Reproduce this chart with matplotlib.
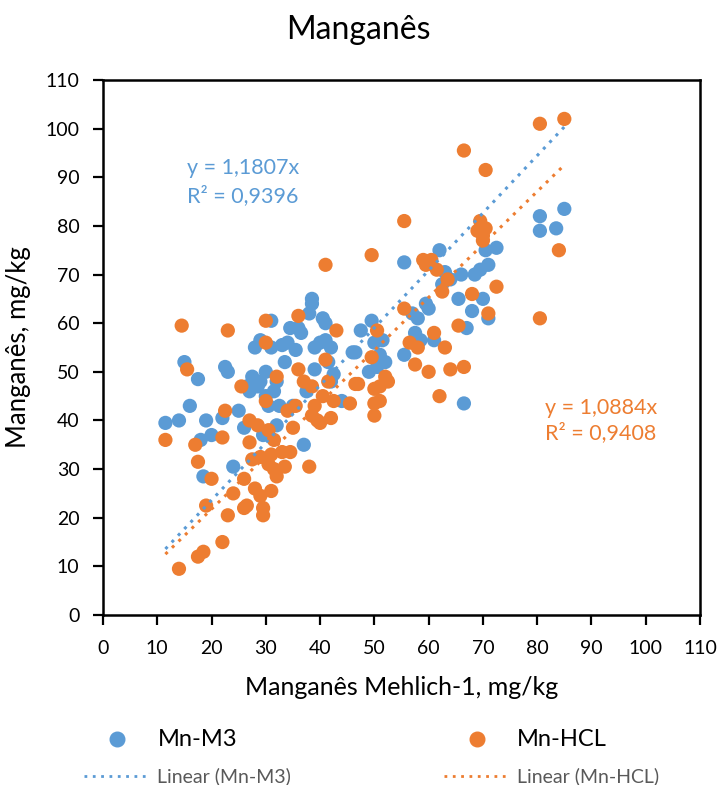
import matplotlib
matplotlib.use("Agg")
import matplotlib.pyplot as plt
from matplotlib.lines import Line2D
import numpy as np

plt.rcParams['font.family'] = ['Lato', 'DejaVu Sans']

# Mn-M3 (blue) data
m3_x = [11.5, 14, 15, 16, 17.5, 18, 18.5, 19, 20, 22, 22.5, 23, 24, 25, 26, 26.5, 27, 27.5, 28, 28.5,
        29, 29, 29.5, 30, 30, 30.5, 31, 31, 31.5, 32, 32, 32.5, 33, 33.5, 34, 34.5, 35, 35.5, 36, 36.5,
        37, 37.5, 38, 38.5, 38.5, 39, 39, 40, 40.5, 41, 41, 41.5, 42, 42, 42.5, 44, 46, 46.5, 47.5, 49,
        49.5, 50, 50.5, 51, 51.5, 52, 55.5, 55.5, 57, 57.5, 58, 58.5, 59.5, 60, 61, 62, 62.5, 63, 64, 65.5,
        66, 66.5, 67, 68, 68.5, 69.5, 70, 70.5, 71, 71, 72.5, 80.5, 80.5, 83.5, 85]
m3_y = [39.5, 40, 52, 43, 48.5, 36, 28.5, 40, 37, 40.5, 51, 50, 30.5, 42, 38.5, 47, 46, 49, 55, 47,
        56.5, 48, 37, 45, 50, 43, 60.5, 55, 46, 48, 39, 43, 55.5, 52, 56, 59, 43, 54.5, 59, 58,
        35, 46, 62, 64, 65, 50.5, 55, 56, 61, 60, 56.5, 52, 55, 48, 49.5, 44, 54, 54, 58.5, 50,
        60.5, 56, 51, 53.5, 56.5, 52, 72.5, 53.5, 62, 58, 61, 56.5, 64, 63, 56.5, 75, 68, 70.5, 69, 65,
        70, 43.5, 59, 62.5, 70, 71, 65, 75, 61, 72, 75.5, 82, 79, 79.5, 83.5]

# Mn-HCL (orange) data
hcl_x = [11.5, 14, 14.5, 15.5, 17, 17.5, 17.5, 18.5, 19, 20, 22, 22, 22.5, 23, 23, 24, 25.5, 26, 26, 26.5,
         27, 27, 27.5, 28, 28.5, 29, 29, 29.5, 29.5, 30, 30, 30, 30.5, 30.5, 31, 31, 31.5, 31.5, 32, 32,
         33, 33.5, 34, 34.5, 35, 35.5, 36, 36, 37, 38, 38.5, 38.5, 39, 39.5, 40, 40.5, 41, 41, 41.5, 42,
         42.5, 43, 45.5, 46.5, 47, 49.5, 49.5, 50, 50, 50, 50.5, 51, 51, 52, 52.5, 55.5, 55.5, 56.5, 57.5, 58,
         59, 59.5, 60, 60.5, 61, 61.5, 62, 62.5, 63, 63.5, 64, 65.5, 66.5, 66.5, 68, 69, 69.5, 70, 70, 70.5,
         70.5, 71, 72.5, 80.5, 80.5, 84, 85]
hcl_y = [36, 9.5, 59.5, 50.5, 35, 31.5, 12, 13, 22.5, 28, 36.5, 15, 42, 20.5, 58.5, 25, 47, 28, 22, 22.5,
         35.5, 40, 32, 26, 39, 24.5, 32.5, 20.5, 22, 60.5, 56, 44, 38, 31, 25.5, 33, 30, 36, 28.5, 49,
         33.5, 30.5, 42, 33.5, 38.5, 43, 61.5, 50.5, 48, 30.5, 47, 41, 43, 40, 39.5, 45, 72, 52.5, 48, 40.5,
         44, 58.5, 43.5, 47.5, 47.5, 74, 53, 46.5, 43.5, 41, 58.5, 44, 47, 49, 48, 81, 63, 56, 51.5, 55,
         73, 72, 50, 73, 58, 71, 45, 66.5, 55, 69, 50.5, 59.5, 95.5, 51, 66, 79, 81, 78, 77, 91.5,
         79.5, 62, 67.5, 101, 61, 75, 102]

slope_m3 = 1.1807
slope_hcl = 1.0884
r2_m3 = "0,9396"
r2_hcl = "0,9408"

blue = '#5B9BD5'
orange = '#ED7D31'

fig = plt.figure(figsize=(7.17, 7.85), dpi=100)
ax = fig.add_axes([103/717, 1-615/785, (700-103)/717, (615-80)/785])

ax.scatter(m3_x, m3_y, s=105, color=blue, edgecolors='none', zorder=3)
ax.scatter(hcl_x, hcl_y, s=105, color=orange, edgecolors='none', zorder=3)

xmin = min(m3_x + hcl_x)
xmax = max(m3_x + hcl_x)
xl = np.array([xmin, xmax])
ax.plot(xl, slope_m3 * xl, linestyle=(0, (1, 2)), color=blue, lw=2.2, zorder=4)
ax.plot(xl, slope_hcl * xl, linestyle=(0, (1, 2)), color=orange, lw=2.2, zorder=4)

ax.set_xlim(0, 110)
ax.set_ylim(0, 110)
ax.set_xticks(np.arange(0, 111, 10))
ax.set_yticks(np.arange(0, 111, 10))
ax.tick_params(direction='out', length=7, width=1.6, labelsize=14)
ax.tick_params(axis='x', pad=11)
ax.tick_params(axis='y', pad=10)
for sp in ax.spines.values():
    sp.set_linewidth(1.8)
    sp.set_color('black')

ax.set_xlabel('Manganês Mehlich-1, mg/kg', fontsize=18, labelpad=14)
ax.set_ylabel('Manganês, mg/kg', fontsize=18.5, labelpad=10)
fig.text(0.5, 1-30/785, 'Manganês', ha='center', va='center', fontsize=23)

ax.text(15.5, 92.0, 'y = 1,1807x', color=blue, fontsize=15.5, va='center')
ax.text(15.5, 86.2, 'R² = ' + r2_m3, color=blue, fontsize=15.5, va='center')
ax.text(81.5, 42.6, 'y = 1,0884x', color=orange, fontsize=15.5, va='center')
ax.text(81.5, 37.4, 'R² = ' + r2_hcl, color=orange, fontsize=15.5, va='center')

# legend (manual)
row1 = 1 - 739/785
row2 = 1 - 776/785
fig.add_artist(Line2D([117/717], [row1], marker='o', markersize=10.5, color=blue, lw=0,
                      transform=fig.transFigure))
fig.text(158/717, row1, 'Mn-M3', fontsize=17, va='center')
fig.add_artist(Line2D([477/717], [row1], marker='o', markersize=10.5, color=orange, lw=0,
                      transform=fig.transFigure))
fig.text(517/717, row1, 'Mn-HCL', fontsize=17, va='center')
fig.add_artist(Line2D([84/717, 147/717], [row2, row2], linestyle=(0, (1, 2)), color=blue,
                      lw=2, transform=fig.transFigure))
fig.text(157/717, row2, 'Linear (Mn-M3)', fontsize=14, color='#595959', va='center')
fig.add_artist(Line2D([444/717, 507/717], [row2, row2], linestyle=(0, (1, 2)), color=orange,
                      lw=2, transform=fig.transFigure))
fig.text(517/717, row2, 'Linear (Mn-HCL)', fontsize=14, color='#595959', va='center')

fig.savefig('out.png', dpi=100)
